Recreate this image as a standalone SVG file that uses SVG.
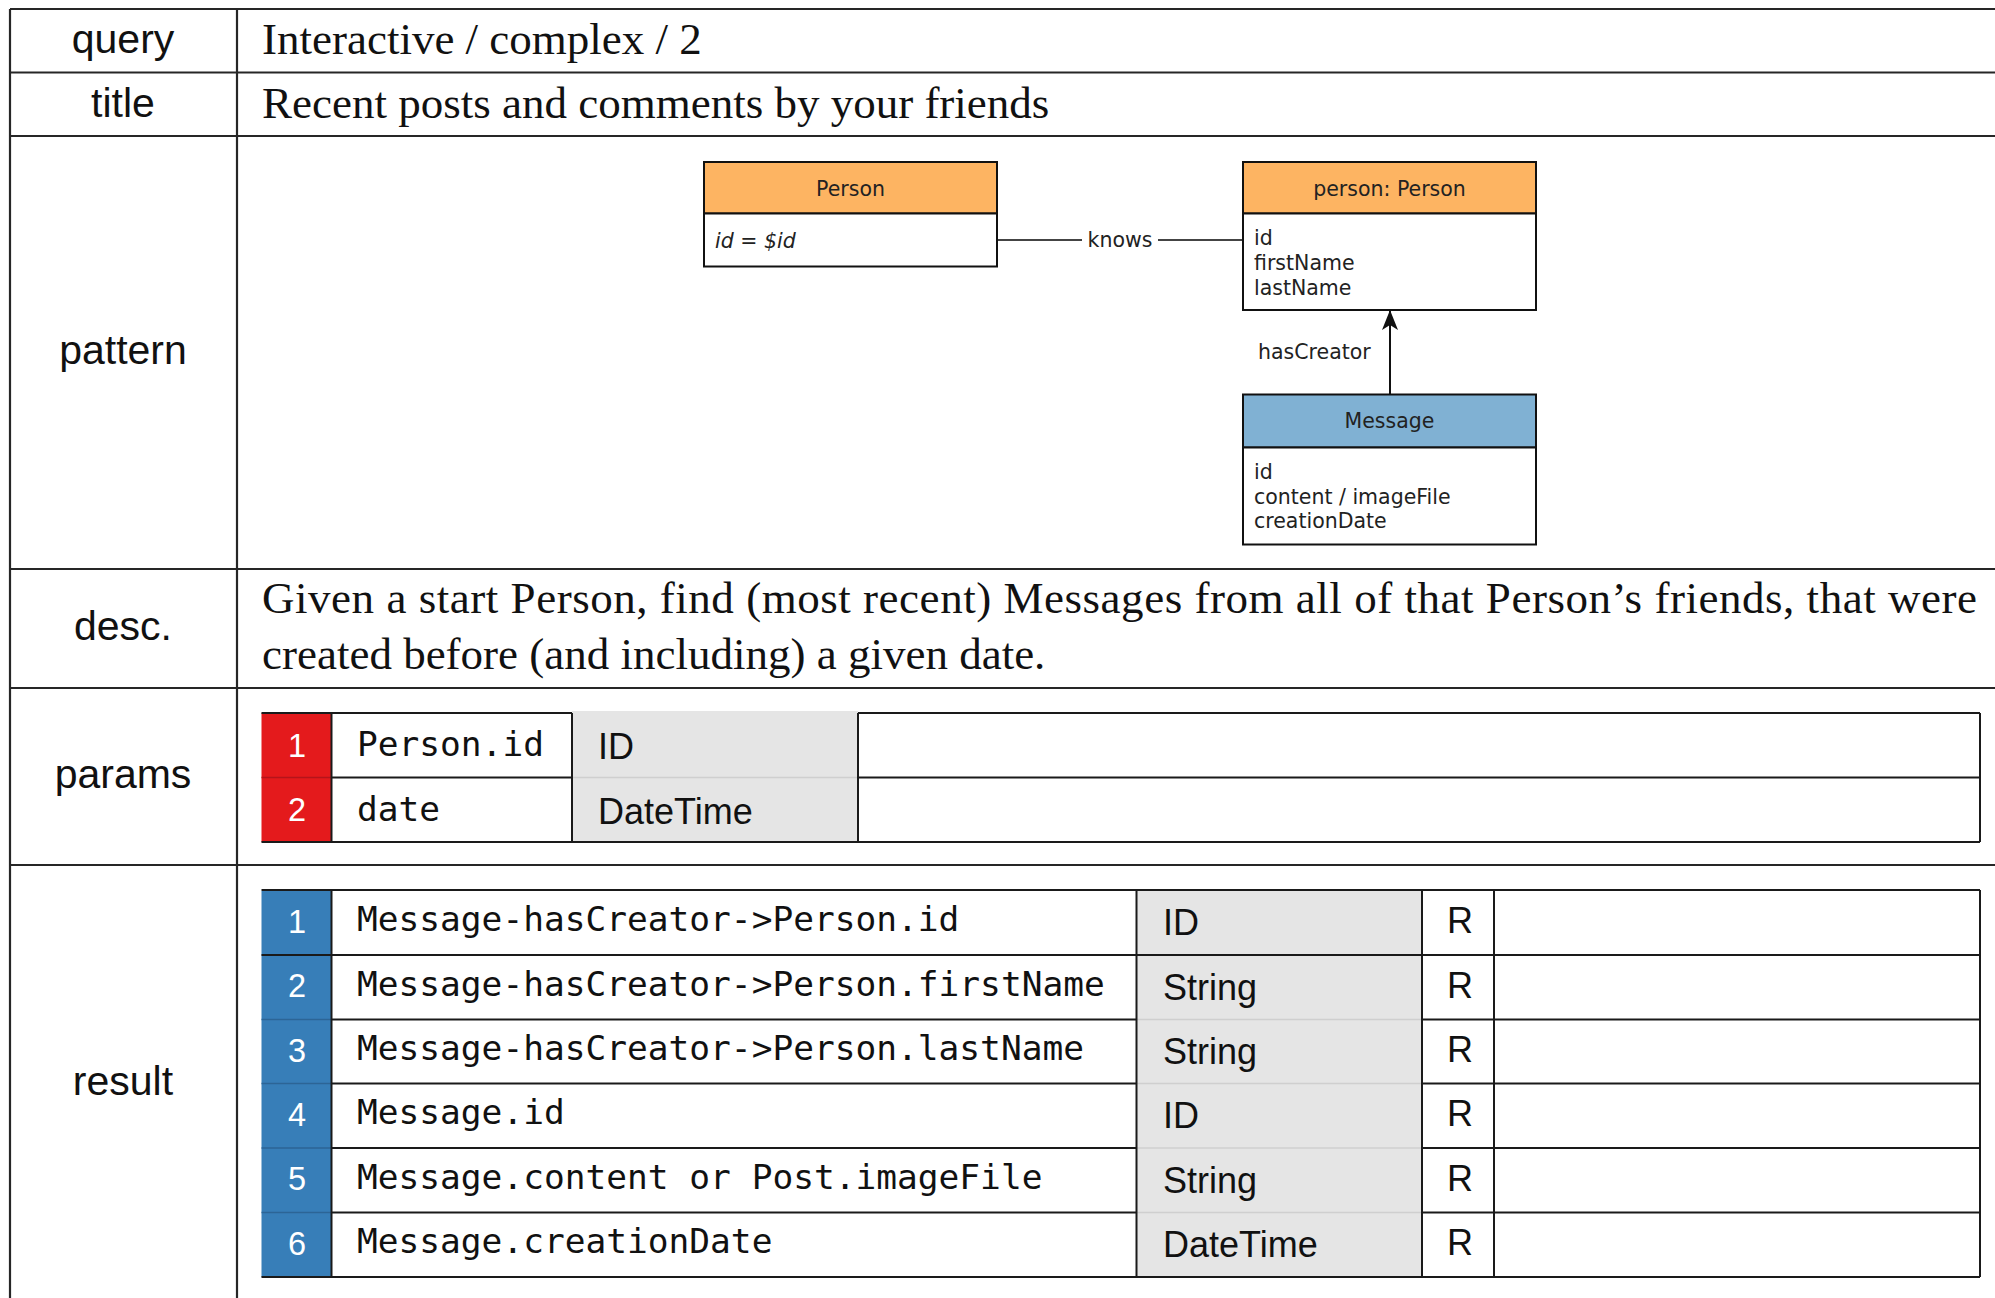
<svg xmlns="http://www.w3.org/2000/svg" width="1995" height="1298" viewBox="0 0 1995 1298">
  <style>
    .grid { stroke: #262626; stroke-width: 2.2; fill: none; }
    .cell { stroke: #1a1a1a; stroke-width: 2; fill: none; }
    .soft { stroke: #cfcfcf; stroke-width: 1.5; fill: none; }
    .lbl { font-family: "Liberation Sans", Arial, sans-serif; font-size: 41px; fill: #111; text-anchor: middle; }
    .serif { font-family: "Liberation Serif", "Times New Roman", serif; font-size: 45px; fill: #111; }
    .hdr { font-family: "DejaVu Sans", sans-serif; font-size: 20.5px; fill: #222; text-anchor: middle; }
    .attr { font-family: "DejaVu Sans", sans-serif; font-size: 20.5px; fill: #222; }
    .num { font-family: "Liberation Sans", Arial, sans-serif; font-size: 32.5px; fill: #ffffff; text-anchor: middle; }
    .mono { font-family: "DejaVu Sans Mono", "Liberation Mono", monospace; font-size: 34.5px; fill: #111; }
    .type { font-family: "Liberation Sans", Arial, sans-serif; font-size: 36px; fill: #111; }
    .box { fill: #ffffff; stroke: #111; stroke-width: 2; }
    .orange { fill: #fdb462; stroke: #111; stroke-width: 2; }
    .blue { fill: #80b1d3; stroke: #111; stroke-width: 2; }
  </style>
  <defs>
    <marker id="arrowhead" viewBox="0 0 20 20" refX="19" refY="10" markerWidth="20" markerHeight="20" markerUnits="userSpaceOnUse" orient="auto">
      <path d="M0,2 L20,10 L0,18 L5,10 Z" fill="#111"/>
    </marker>
  </defs>

  <rect width="1995" height="1298" fill="#ffffff"/>

  <!-- outer table rules -->
  <g id="frame">
    <line class="grid" x1="10" y1="9" x2="1995" y2="9"/>
    <line class="grid" x1="10" y1="72.5" x2="1995" y2="72.5"/>
    <line class="grid" x1="10" y1="136" x2="1995" y2="136"/>
    <line class="grid" x1="10" y1="569" x2="1995" y2="569"/>
    <line class="grid" x1="10" y1="688" x2="1995" y2="688"/>
    <line class="grid" x1="10" y1="865" x2="1995" y2="865"/>
    <line class="grid" x1="10" y1="9" x2="10" y2="1298"/>
    <line class="grid" x1="237" y1="9" x2="237" y2="1298"/>
  </g>

  <!-- row labels -->
  <g id="labels">
    <text class="lbl" x="123" y="53">query</text>
    <text class="lbl" x="123" y="117">title</text>
    <text class="lbl" x="123" y="364">pattern</text>
    <text class="lbl" x="123" y="640">desc.</text>
    <text class="lbl" x="123" y="788">params</text>
    <text class="lbl" x="123" y="1095">result</text>
  </g>

  <g id="query-text">
    <text class="serif" x="262" y="54">Interactive / complex / 2</text>
  </g>
  <g id="title-text">
    <text class="serif" x="262" y="118">Recent posts and comments by your friends</text>
  </g>
  <g id="desc-text">
    <text class="serif" x="262" y="613" textLength="1715" lengthAdjust="spacing">Given a start Person, find (most recent) Messages from all of that Person’s friends, that were</text>
    <text class="serif" x="262" y="669">created before (and including) a given date.</text>
  </g>

  <!-- pattern: connectors -->
  <g id="connectors">
    <line x1="997" y1="240" x2="1082" y2="240" stroke="#444" stroke-width="2.2"/>
    <line x1="1158" y1="240" x2="1243" y2="240" stroke="#444" stroke-width="2.2"/>
    <text class="attr" x="1120" y="247" text-anchor="middle">knows</text>
    <line x1="1390" y1="394" x2="1390" y2="311" stroke="#111" stroke-width="2" marker-end="url(#arrowhead)"/>
    <text class="attr" x="1258" y="359">hasCreator</text>
  </g>

  <!-- pattern: nodes -->
  <g id="node-person-start">
    <rect class="orange" x="704" y="162" width="293" height="51.5"/>
    <rect class="box" x="704" y="213.5" width="293" height="53"/>
    <text class="hdr" x="850.5" y="196">Person</text>
    <text class="attr" x="715" y="247.5" font-style="italic">id = $id</text>
  </g>
  <g id="node-person-friend">
    <rect class="orange" x="1243" y="162" width="293" height="51.5"/>
    <rect class="box" x="1243" y="213.5" width="293" height="96.5"/>
    <text class="hdr" x="1389.5" y="196">person: Person</text>
    <text class="attr" x="1254" y="244.5">id</text>
    <text class="attr" x="1254" y="269.5">firstName</text>
    <text class="attr" x="1254" y="294.5">lastName</text>
  </g>
  <g id="node-message">
    <rect class="blue" x="1243" y="394.5" width="293" height="53"/>
    <rect class="box" x="1243" y="447.5" width="293" height="97"/>
    <text class="hdr" x="1389.5" y="428">Message</text>
    <text class="attr" x="1254" y="478.5">id</text>
    <text class="attr" x="1254" y="503.5">content / imageFile</text>
    <text class="attr" x="1254" y="528">creationDate</text>
  </g>

  <!-- params table -->
  <g id="params-table">
    <rect x="261.5" y="713" width="70" height="129" fill="#e41a1c"/>
    <rect x="572" y="711" width="286" height="131" fill="#e5e5e5"/>
    <line x1="261.5" y1="777.5" x2="331.5" y2="777.5" stroke="#b5141a" stroke-width="1.5"/>
    <line class="soft" x1="572" y1="777.5" x2="858" y2="777.5"/>
    <line class="cell" x1="261.5" y1="713" x2="572" y2="713"/>
    <line class="cell" x1="858" y1="713" x2="1980" y2="713"/>
    <line class="cell" x1="331.5" y1="777.5" x2="572" y2="777.5"/>
    <line class="cell" x1="858" y1="777.5" x2="1980" y2="777.5"/>
    <line class="cell" x1="261.5" y1="842" x2="1980" y2="842"/>
    <line class="cell" x1="331.5" y1="713" x2="331.5" y2="842"/>
    <line class="cell" x1="572" y1="713" x2="572" y2="842"/>
    <line class="cell" x1="858" y1="713" x2="858" y2="842"/>
    <line class="cell" x1="1980" y1="713" x2="1980" y2="842"/>
    <text class="num" x="297" y="756.5">1</text>
    <text class="num" x="297" y="821">2</text>
    <text class="mono" x="357" y="756">Person.id</text>
    <text class="mono" x="357" y="821">date</text>
    <text class="type" x="598" y="758.5">ID</text>
    <text class="type" x="598" y="823.5">DateTime</text>
  </g>

  <!-- result table -->
  <g id="result-table">
    <rect x="261.5" y="891" width="70" height="386" fill="#377eb8"/>
    <rect x="1136.5" y="891" width="285.5" height="386" fill="#e5e5e5"/>
    <g stroke="#2c6596" stroke-width="1.5">
      <line x1="261.5" y1="1019.5" x2="331.5" y2="1019.5"/>
      <line x1="261.5" y1="1083.5" x2="331.5" y2="1083.5"/>
      <line x1="261.5" y1="1148" x2="331.5" y2="1148"/>
      <line x1="261.5" y1="1212.5" x2="331.5" y2="1212.5"/>
    </g>
    <line class="soft" x1="1136.5" y1="1019.5" x2="1422" y2="1019.5"/>
    <line class="soft" x1="1136.5" y1="1083.5" x2="1422" y2="1083.5"/>
    <line class="soft" x1="1136.5" y1="1148" x2="1422" y2="1148"/>
    <line class="soft" x1="1136.5" y1="1212.5" x2="1422" y2="1212.5"/>
    <line class="cell" x1="261.5" y1="890" x2="1980" y2="890"/>
    <line class="cell" x1="261.5" y1="955" x2="1980" y2="955"/>
    <line class="cell" x1="331.5" y1="1019.5" x2="1136.5" y2="1019.5"/>
    <line class="cell" x1="1422" y1="1019.5" x2="1980" y2="1019.5"/>
    <line class="cell" x1="331.5" y1="1083.5" x2="1136.5" y2="1083.5"/>
    <line class="cell" x1="1422" y1="1083.5" x2="1980" y2="1083.5"/>
    <line class="cell" x1="331.5" y1="1148" x2="1136.5" y2="1148"/>
    <line class="cell" x1="1422" y1="1148" x2="1980" y2="1148"/>
    <line class="cell" x1="331.5" y1="1212.5" x2="1136.5" y2="1212.5"/>
    <line class="cell" x1="1422" y1="1212.5" x2="1980" y2="1212.5"/>
    <line class="cell" x1="261.5" y1="1277" x2="1980" y2="1277"/>
    <line class="cell" x1="331.5" y1="890" x2="331.5" y2="1277"/>
    <line class="cell" x1="1136.5" y1="890" x2="1136.5" y2="1277"/>
    <line class="cell" x1="1422" y1="890" x2="1422" y2="1277"/>
    <line class="cell" x1="1494" y1="890" x2="1494" y2="1277"/>
    <line class="cell" x1="1980" y1="890" x2="1980" y2="1277"/>

    <text class="num" x="297" y="933">1</text>
    <text class="num" x="297" y="997">2</text>
    <text class="num" x="297" y="1061.5">3</text>
    <text class="num" x="297" y="1126">4</text>
    <text class="num" x="297" y="1190">5</text>
    <text class="num" x="297" y="1254.5">6</text>

    <text class="mono" x="357" y="931">Message-hasCreator-&gt;Person.id</text>
    <text class="mono" x="357" y="995.5">Message-hasCreator-&gt;Person.firstName</text>
    <text class="mono" x="357" y="1060">Message-hasCreator-&gt;Person.lastName</text>
    <text class="mono" x="357" y="1124">Message.id</text>
    <text class="mono" x="357" y="1188.5">Message.content or Post.imageFile</text>
    <text class="mono" x="357" y="1253">Message.creationDate</text>

    <text class="type" x="1163" y="935">ID</text>
    <text class="type" x="1163" y="999.5">String</text>
    <text class="type" x="1163" y="1064">String</text>
    <text class="type" x="1163" y="1128">ID</text>
    <text class="type" x="1163" y="1192.5">String</text>
    <text class="type" x="1163" y="1257">DateTime</text>

    <text class="type" x="1447" y="933">R</text>
    <text class="type" x="1447" y="997.5">R</text>
    <text class="type" x="1447" y="1062">R</text>
    <text class="type" x="1447" y="1126">R</text>
    <text class="type" x="1447" y="1190.5">R</text>
    <text class="type" x="1447" y="1255">R</text>
  </g>
</svg>
